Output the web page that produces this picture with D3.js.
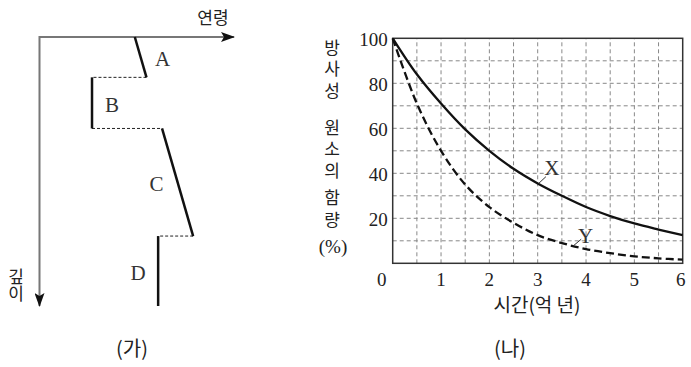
<!DOCTYPE html>
<html>
<head>
<meta charset="utf-8">
<script src="https://cdn.jsdelivr.net/npm/d3@7"></script>
<style>
  body { margin: 0; background: #fff; }
  text { fill: #222; }
  .kr { font-family: "Noto Sans CJK KR", sans-serif; }
  .num { font-family: "Liberation Serif", serif; }
  .let { font-family: "Liberation Serif", serif; }
  .vert { writing-mode: vertical-rl; text-orientation: upright; }
</style>
</head>
<body>
<script>
// (가) layers: age at top / bottom of each layer, depth range (arbitrary units 0-100)
var layerNames = ["A", "B", "C", "D"];
var ageTop = [49, 27, 63, 61];
var ageBottom = [55, 27, 79, 61];
var depthTop = [0, 15, 34, 74];
var depthBottom = [15, 34, 74, 100];

// (나) remaining radioactive element (%) vs time (100 million years)
var times = [0, 0.5, 1, 1.5, 2, 2.5, 3, 3.5, 4, 4.5, 5, 5.5, 6];
var seriesX = [100, 84, 71, 59.5, 50, 42, 35.5, 30, 25, 21, 17.7, 15, 12.5];
var seriesY = [100, 71, 50, 35, 25, 18, 12.5, 9, 6.3, 4.5, 3.1, 2.2, 1.6];
var xTicks = [0, 1, 2, 3, 4, 5, 6];
var yTicks = [20, 40, 60, 80, 100];

var svg = d3.select("body").append("svg")
    .attr("width", 691)
    .attr("height", 367);

var defs = svg.append("defs");
defs.append("marker")
    .attr("id", "arrow")
    .attr("viewBox", "0 0 14 10")
    .attr("refX", 13).attr("refY", 5)
    .attr("markerWidth", 14).attr("markerHeight", 10)
    .attr("markerUnits", "userSpaceOnUse")
    .attr("orient", "auto")
  .append("path")
    .attr("d", "M0,0 L14,5 L0,10 L3,5 Z")
    .attr("fill", "#111");

// ---------- (가) ----------
var ax = d3.scaleLinear().domain([0, 100]).range([39.5, 234]);
var ay = d3.scaleLinear().domain([0, 100]).range([37, 306]);

var left = svg.append("g");

left.append("line")
    .attr("x1", ax(0)).attr("y1", ay(0))
    .attr("x2", ax(100)).attr("y2", ay(0))
    .attr("stroke", "#777").attr("stroke-width", 2)
    .attr("marker-end", "url(#arrow)");
left.append("line")
    .attr("x1", ax(0)).attr("y1", ay(0) - 1)
    .attr("x2", ax(0)).attr("y2", ay(100))
    .attr("stroke", "#777").attr("stroke-width", 2)
    .attr("marker-end", "url(#arrow)");

left.append("text").attr("class", "kr")
    .attr("x", 213).attr("y", 16)
    .attr("text-anchor", "middle").attr("dominant-baseline", "central")
    .style("font-size", "17px")
    .text("연령");

left.append("text")
    .attr("class", "kr vert")
    .attr("x", 16).attr("y", 285)
    .attr("text-anchor", "middle")
    .style("font-size", "17px")
    .text("깊이");

var layers = layerNames.map(function(n, i) {
  return {name: n, a0: ageTop[i], a1: ageBottom[i], d0: depthTop[i], d1: depthBottom[i]};
});

// dashed unconformity links between bottom of one layer and top of the next
for (var i = 0; i < layers.length - 1; i++) {
  left.append("line")
      .attr("x1", ax(layers[i].a1)).attr("y1", ay(layers[i].d1))
      .attr("x2", ax(layers[i + 1].a0)).attr("y2", ay(layers[i + 1].d0))
      .attr("stroke", "#222").attr("stroke-width", 1)
      .attr("stroke-dasharray", "3,2");
}

left.selectAll(".layer")
    .data(layers)
  .enter().append("line")
    .attr("class", "layer")
    .attr("x1", function(d) { return ax(d.a0); })
    .attr("y1", function(d) { return ay(d.d0); })
    .attr("x2", function(d) { return ax(d.a1); })
    .attr("y2", function(d) { return ay(d.d1); })
    .attr("stroke", "#111").attr("stroke-width", 2.5);

var labelSide = [22, 20, -21, -20];
left.selectAll(".lname")
    .data(layers)
  .enter().append("text")
    .attr("class", "let lname")
    .attr("x", function(d, i) { return (ax(d.a0) + ax(d.a1)) / 2 + labelSide[i]; })
    .attr("y", function(d) { return (ay(d.d0) + ay(d.d1)) / 2 + 2; })
    .attr("text-anchor", "middle").attr("dominant-baseline", "central")
    .style("font-size", "21px").style("fill", "#333")
    .text(function(d) { return d.name; });

// ---------- (나) ----------
var x = d3.scaleLinear().domain([0, 6]).range([392.7, 682.7]);
var y = d3.scaleLinear().domain([0, 100]).range([263.3, 38.3]);

var right = svg.append("g");

// grid
right.selectAll(".vgrid")
    .data(d3.range(1, 12).map(function(k) { return k * 0.5; }))
  .enter().append("line")
    .attr("x1", function(d) { return x(d); }).attr("x2", function(d) { return x(d); })
    .attr("y1", y(0)).attr("y2", y(100))
    .attr("stroke", "#888").attr("stroke-width", 1)
    .attr("stroke-dasharray", "4,3");
right.selectAll(".hgrid")
    .data(d3.range(1, 10).map(function(k) { return k * 10; }))
  .enter().append("line")
    .attr("x1", x(0)).attr("x2", x(6))
    .attr("y1", function(d) { return y(d); }).attr("y2", function(d) { return y(d); })
    .attr("stroke", "#888").attr("stroke-width", 1)
    .attr("stroke-dasharray", "4,3");

// frame
right.append("rect")
    .attr("x", x(0)).attr("y", y(100))
    .attr("width", x(6) - x(0)).attr("height", y(0) - y(100))
    .attr("fill", "none").attr("stroke", "#333").attr("stroke-width", 1.5);

var line = d3.line()
    .x(function(d) { return x(d[0]); })
    .y(function(d) { return y(d[1]); })
    .curve(d3.curveCatmullRom.alpha(0.5));

right.append("path")
    .datum(d3.zip(times, seriesX))
    .attr("d", line)
    .attr("fill", "none").attr("stroke", "#111").attr("stroke-width", 2.3);
right.append("path")
    .datum(d3.zip(times, seriesY))
    .attr("d", line)
    .attr("fill", "none").attr("stroke", "#111").attr("stroke-width", 2.3)
    .attr("stroke-dasharray", "8,4");

// tick labels
right.selectAll(".xt")
    .data(xTicks)
  .enter().append("text")
    .attr("class", "num xt")
    .attr("x", function(d) { return d === 0 ? x(d) - 11 : x(d) - (d === 6 ? 2 : 0); })
    .attr("y", 279)
    .attr("text-anchor", "middle").attr("dominant-baseline", "central")
    .style("font-size", "19px")
    .text(function(d) { return d; });
right.selectAll(".yt")
    .data(yTicks)
  .enter().append("text")
    .attr("class", "num yt")
    .attr("x", x(0) - 5)
    .attr("y", function(d) { return y(d) + 1; })
    .attr("text-anchor", "end").attr("dominant-baseline", "central")
    .style("font-size", "19px")
    .text(function(d) { return d; });

// series labels with leader ticks
right.append("line")
    .attr("x1", x(3.02)).attr("y1", y(35.5))
    .attr("x2", x(3.17)).attr("y2", y(38.5))
    .attr("stroke", "#333").attr("stroke-width", 1);
right.append("text").attr("class", "let")
    .attr("x", x(3.29)).attr("y", y(42.5))
    .attr("text-anchor", "middle").attr("dominant-baseline", "central")
    .style("font-size", "21px").style("fill", "#333")
    .text("X");
right.append("line")
    .attr("x1", x(3.75)).attr("y1", y(8))
    .attr("x2", x(3.9)).attr("y2", y(10.7))
    .attr("stroke", "#333").attr("stroke-width", 1);
right.append("text").attr("class", "let")
    .attr("x", x(3.99)).attr("y", y(12))
    .attr("text-anchor", "middle").attr("dominant-baseline", "central")
    .style("font-size", "21px").style("fill", "#333")
    .text("Y");

// axis titles (vertical words)
var yTitleWords = ["방사성", "원소의", "함량"];
var yTitleMid = [71, 151, 211];
right.selectAll(".ytitle")
    .data(yTitleWords)
  .enter().append("text")
    .attr("class", "kr vert ytitle")
    .attr("x", 332)
    .attr("y", function(d, i) { return yTitleMid[i]; })
    .attr("text-anchor", "middle")
    .style("font-size", "17px")
    .style("letter-spacing", "4.5px")
    .text(function(d) { return d; });
right.append("text").attr("class", "num")
    .attr("x", 333).attr("y", 246)
    .attr("text-anchor", "middle").attr("dominant-baseline", "central")
    .style("font-size", "19px")
    .text("(%)");

right.append("text").attr("class", "kr")
    .attr("x", 537).attr("y", 303)
    .attr("text-anchor", "middle").attr("dominant-baseline", "central")
    .style("font-size", "19px")
    .text("시간(억 년)");

// captions
svg.append("text").attr("class", "kr")
    .attr("x", 132).attr("y", 347)
    .attr("text-anchor", "middle").attr("dominant-baseline", "central")
    .style("font-size", "20px")
    .text("(가)");
svg.append("text").attr("class", "kr")
    .attr("x", 510).attr("y", 347)
    .attr("text-anchor", "middle").attr("dominant-baseline", "central")
    .style("font-size", "20px")
    .text("(나)");
</script>
</body>
</html>
